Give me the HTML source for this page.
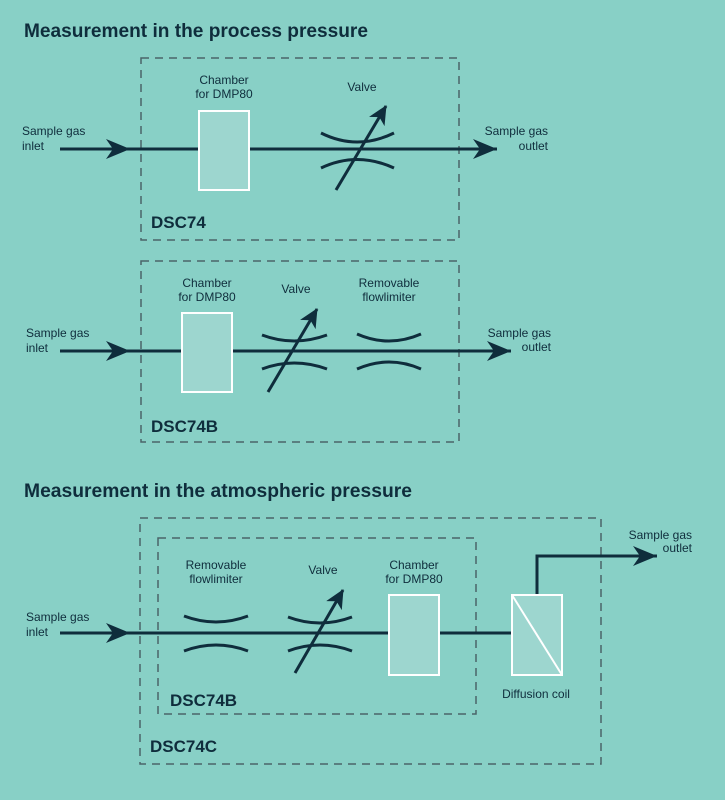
<!DOCTYPE html>
<html><head><meta charset="utf-8"><style>
html,body{margin:0;padding:0;background:#88d0c6;}
svg{display:block;font-family:"Liberation Sans",sans-serif;}
</style></head><body>
<svg width="725" height="800" viewBox="0 0 725 800" xmlns="http://www.w3.org/2000/svg">
<defs>
<marker id="ah" markerWidth="26" markerHeight="22" refX="24" refY="11" orient="auto" markerUnits="userSpaceOnUse">
<path d="M0,1 L24,11 L0,21 L7,11 Z" fill="#0f2d3c"/>
</marker>
<marker id="sa" markerWidth="22" markerHeight="22" refX="18" refY="9" orient="auto" markerUnits="userSpaceOnUse">
<path d="M0,0 L19,9 L0,18 L5,9 Z" fill="#0f2d3c"/>
</marker>
</defs>
<rect width="725" height="800" fill="#88d0c6"/>
<g fill="#0f2d3c" font-size="19" font-weight="bold">
<text x="24" y="37" textLength="344" lengthAdjust="spacingAndGlyphs">Measurement in the process pressure</text>
<text x="24" y="497" textLength="388" lengthAdjust="spacingAndGlyphs">Measurement in the atmospheric pressure</text>
</g>
<g fill="none" stroke="#4a6468" stroke-width="1.5" stroke-dasharray="8,6">
<rect x="141" y="58" width="318" height="182"/>
<rect x="141" y="261" width="318" height="181"/>
<rect x="140" y="518" width="461" height="246"/>
<rect x="158" y="538" width="318" height="176"/>
</g>
<g stroke="#0f2d3c" stroke-width="3" fill="none">
<line x1="60" y1="149" x2="130" y2="149" marker-end="url(#ah)"/>
<line x1="128" y1="149" x2="497" y2="149" marker-end="url(#ah)"/>
<path d="M321,133 Q357,151 394,133"/>
<path d="M321,168 Q357,151 394,168"/>
<line x1="336" y1="190" x2="386" y2="106" marker-end="url(#sa)"/>
<line x1="60" y1="351" x2="130" y2="351" marker-end="url(#ah)"/>
<line x1="128" y1="351" x2="511" y2="351" marker-end="url(#ah)"/>
<path d="M262,335 Q294,347 327,335"/>
<path d="M262,369 Q294,357 327,369"/>
<line x1="268" y1="392" x2="317" y2="309" marker-end="url(#sa)"/>
<path d="M357,334 Q389,348 421,334"/>
<path d="M357,369 Q389,355 421,369"/>
<line x1="60" y1="633" x2="130" y2="633" marker-end="url(#ah)"/>
<line x1="128" y1="633" x2="512" y2="633"/>
<path d="M184,616 Q216,628 248,616"/>
<path d="M184,651 Q216,639 248,651"/>
<path d="M288,617 Q320,629 352,617"/>
<path d="M288,651 Q320,639 352,651"/>
<line x1="295" y1="673" x2="343" y2="590" marker-end="url(#sa)"/>
<path d="M537,595 L537,556 L657,556" marker-end="url(#ah)"/>
</g>
<g fill="#9dd6cf" stroke="#ffffff" stroke-width="2">
<rect x="199" y="111" width="50" height="79"/>
<rect x="182" y="313" width="50" height="79"/>
<rect x="389" y="595" width="50" height="80"/>
<rect x="512" y="595" width="50" height="80"/>
</g>
<line x1="512" y1="595" x2="562" y2="675" stroke="#fff" stroke-width="2"/>
<g fill="#0f2d3c" font-size="12">
<text x="22" y="135">Sample gas</text><text x="22" y="150">inlet</text>
<text x="548" y="135" text-anchor="end">Sample gas</text><text x="548" y="150" text-anchor="end">outlet</text>
<text x="224" y="84" text-anchor="middle">Chamber</text><text x="224" y="98" text-anchor="middle">for DMP80</text>
<text x="362" y="91" text-anchor="middle">Valve</text>
<text x="26" y="337">Sample gas</text><text x="26" y="352">inlet</text>
<text x="551" y="337" text-anchor="end">Sample gas</text><text x="551" y="351" text-anchor="end">outlet</text>
<text x="207" y="287" text-anchor="middle">Chamber</text><text x="207" y="301" text-anchor="middle">for DMP80</text>
<text x="296" y="293" text-anchor="middle">Valve</text>
<text x="389" y="287" text-anchor="middle">Removable</text><text x="389" y="301" text-anchor="middle">flowlimiter</text>
<text x="26" y="621">Sample gas</text><text x="26" y="636">inlet</text>
<text x="692" y="539" text-anchor="end">Sample gas</text><text x="692" y="552" text-anchor="end">outlet</text>
<text x="216" y="569" text-anchor="middle">Removable</text><text x="216" y="583" text-anchor="middle">flowlimiter</text>
<text x="323" y="574" text-anchor="middle">Valve</text>
<text x="414" y="569" text-anchor="middle">Chamber</text><text x="414" y="583" text-anchor="middle">for DMP80</text>
<text x="536" y="698" text-anchor="middle">Diffusion coil</text>
</g>
<g fill="#0f2d3c" font-size="17" font-weight="bold">
<text x="151" y="228">DSC74</text>
<text x="151" y="432">DSC74B</text>
<text x="170" y="706">DSC74B</text>
<text x="150" y="752">DSC74C</text>
</g>
</svg>
</body></html>
